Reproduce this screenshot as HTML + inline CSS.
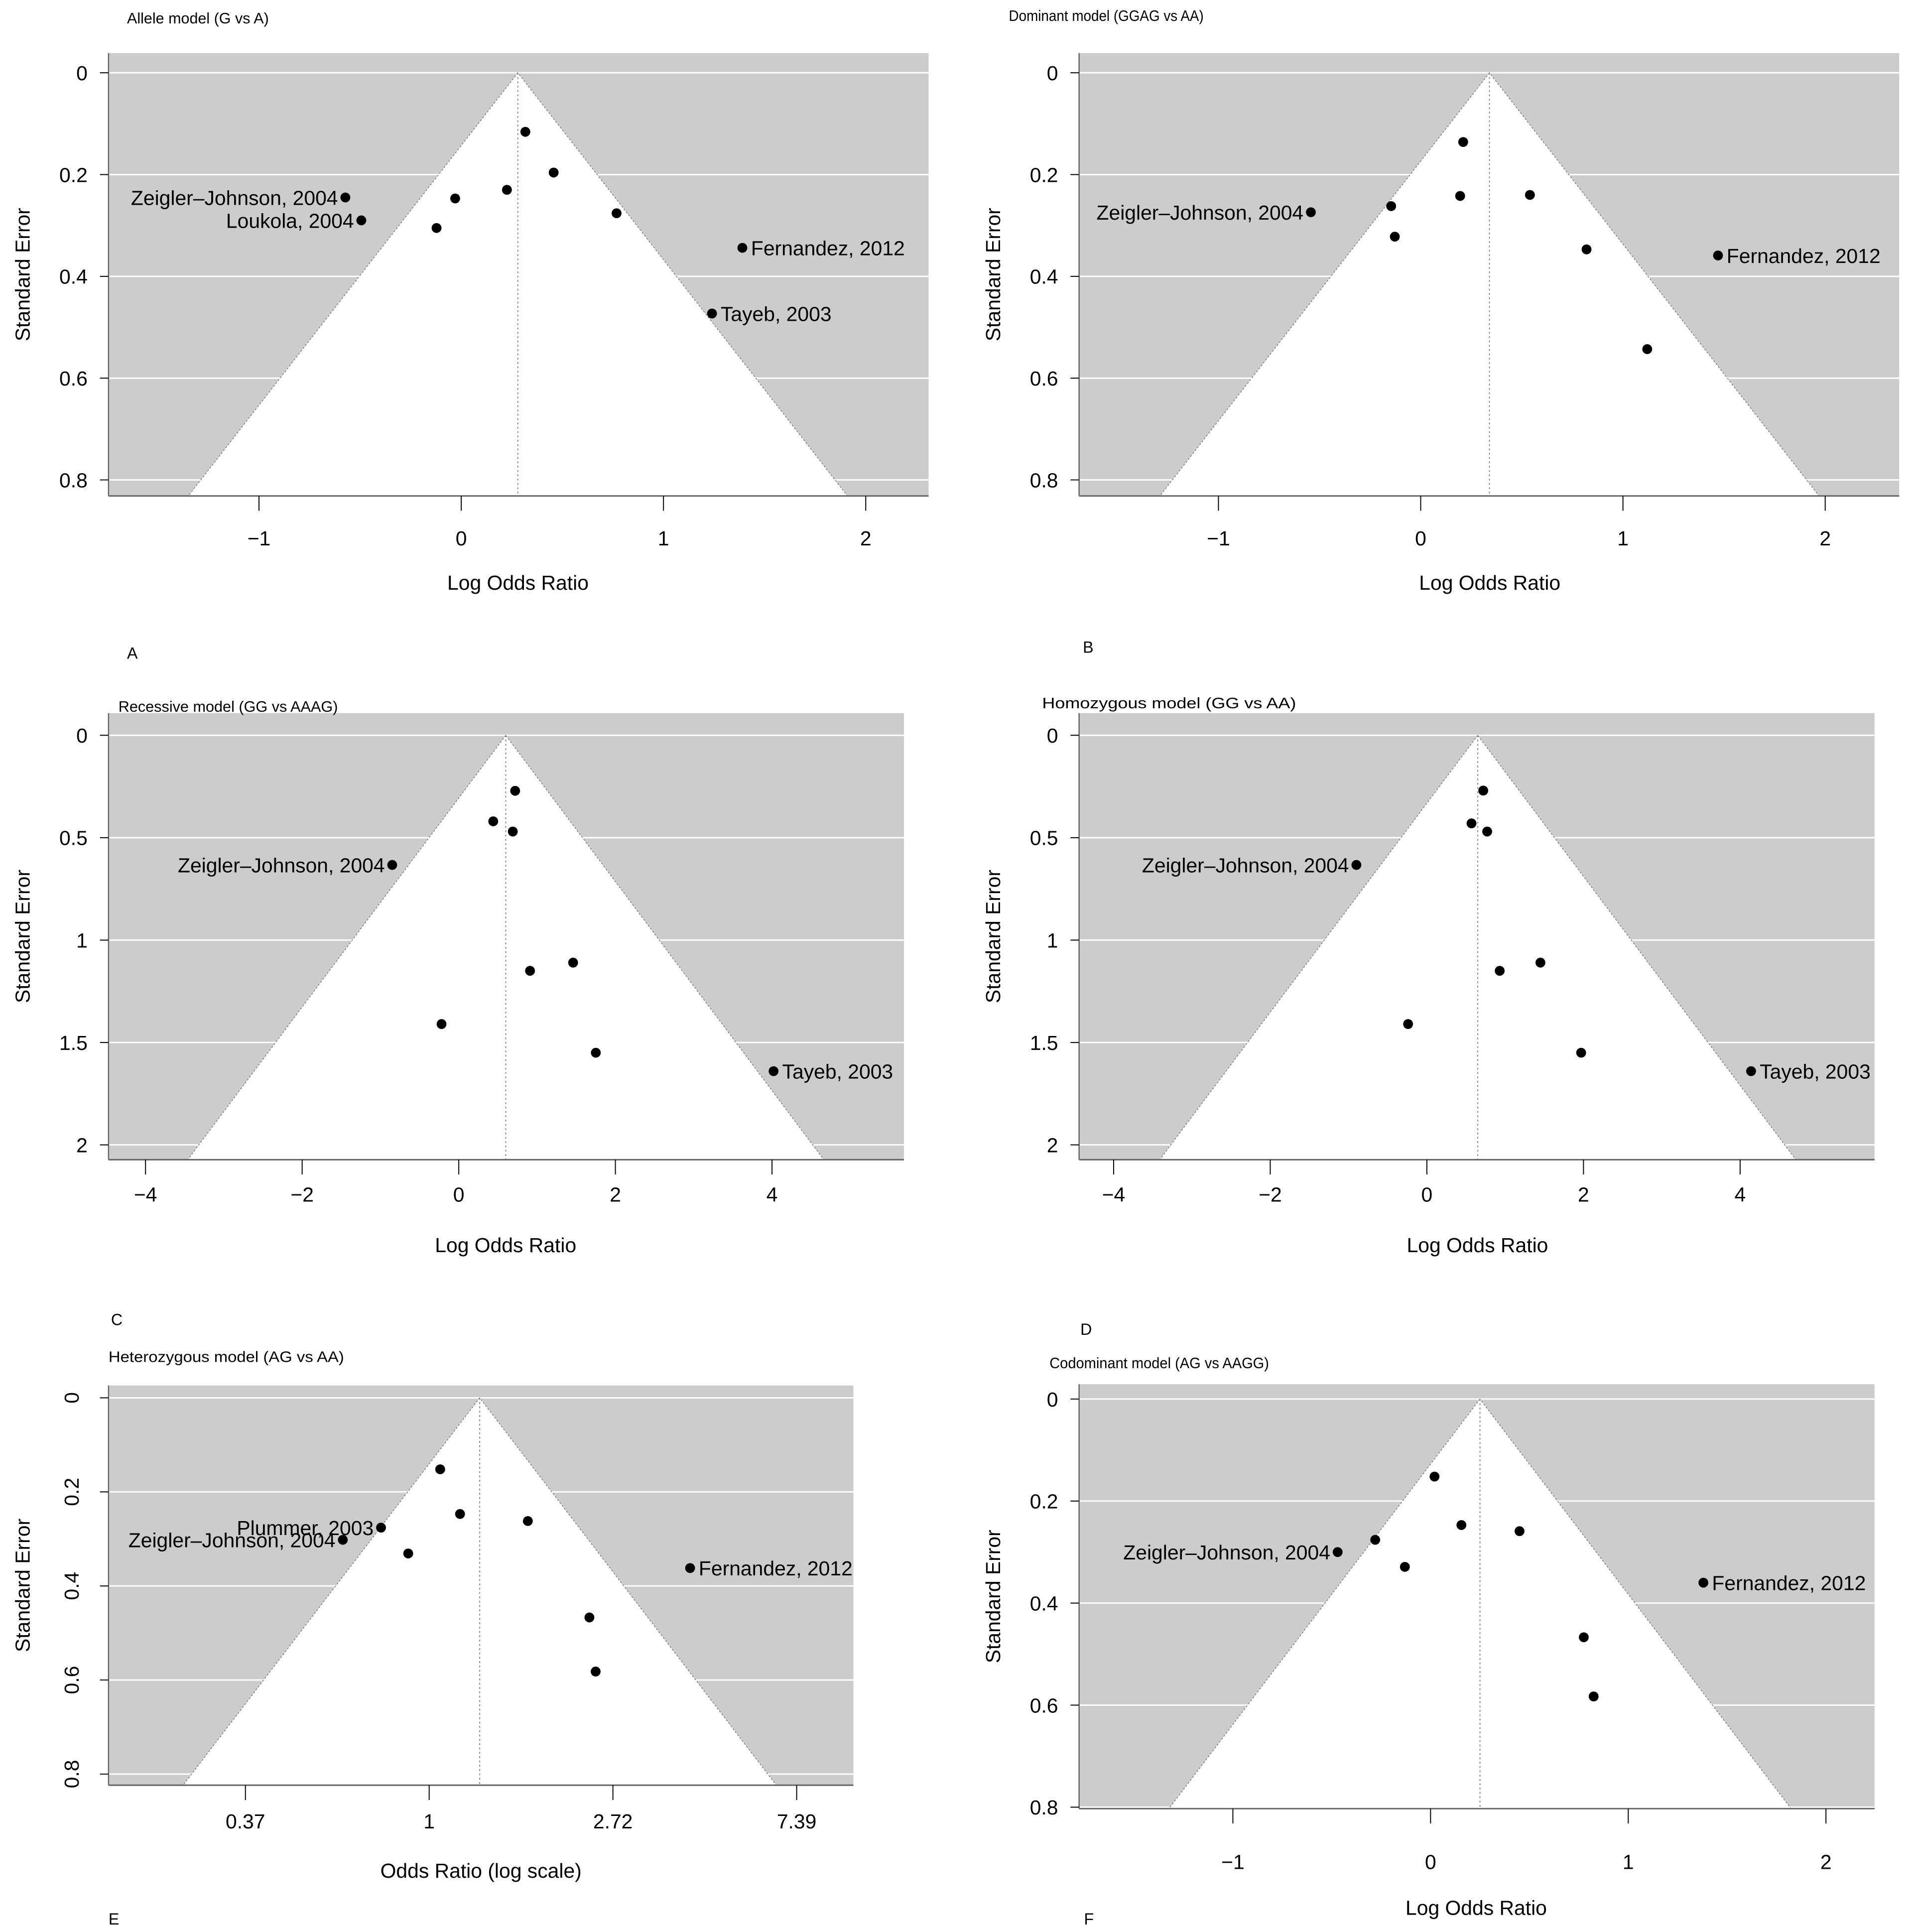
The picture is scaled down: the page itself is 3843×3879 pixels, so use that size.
<!DOCTYPE html>
<html><head><meta charset="utf-8"><style>
html,body{margin:0;padding:0;background:#fff}
svg{display:block}
text{font-family:"Liberation Sans",sans-serif;fill:#000}
</style></head><body>
<svg id="fig" width="3843" height="3879" viewBox="0 0 1552 1566" preserveAspectRatio="none" xmlns="http://www.w3.org/2000/svg"></svg>
<script>
// Panel A
const aX=[0.317,0.457,0.226,-0.03,-0.122,0.768,-0.573,-0.494,1.39,1.24];
const aSE=[0.116,0.196,0.23,0.247,0.305,0.276,0.245,0.29,0.344,0.473];
const aLab=["","","","","","","Zeigler\u2013Johnson, 2004","Loukola, 2004","Fernandez, 2012","Tayeb, 2003"];
// Panel B
const bX=[0.21,-0.146,0.195,-0.128,0.54,0.82,1.12,-0.543,1.47];
const bSE=[0.136,0.262,0.242,0.322,0.24,0.347,0.543,0.274,0.359];
const bLab=["","","","","","","","Zeigler\u2013Johnson, 2004","Fernandez, 2012"];
// Panel C
const cX=[0.72,0.44,0.69,-0.85,0.91,1.46,-0.22,1.75,4.02];
const cSE=[0.271,0.42,0.47,0.633,1.15,1.11,1.41,1.55,1.64];
const cLab=["","","","Zeigler\u2013Johnson, 2004","","","","","Tayeb, 2003"];
// Panel D
const dX=[0.72,0.57,0.77,-0.9,0.93,1.45,-0.24,1.97,4.14];
const dSE=[0.27,0.43,0.47,0.633,1.15,1.11,1.41,1.55,1.64];
const dLab=["","","","Zeigler\u2013Johnson, 2004","","","","","Tayeb, 2003"];
// Panel E (log OR)
const eX=[0.06,0.168,0.537,-0.262,-0.47,-0.114,1.42,0.872,0.906];
const eSE=[0.152,0.247,0.262,0.276,0.302,0.331,0.362,0.467,0.582];
const eLab=["","","","Plummer, 2003","Zeigler\u2013Johnson, 2004","","Fernandez, 2012","",""];
// Panel F
const fX=[0.02,-0.28,0.156,-0.13,0.45,-0.47,1.38,0.775,0.825];
const fSE=[0.152,0.276,0.247,0.329,0.259,0.3,0.36,0.467,0.583];
const fLab=["","","","","","Zeigler\u2013Johnson, 2004","Fernandez, 2012","",""];
// Ticks
const seTicks1=[0,0.2,0.4,0.6,0.8];
const seTicks2=[0,0.5,1,1.5,2];
const seTickLabels2=["0","0.5","1","1.5","2"];
const xTicks1=[-1,0,1,2];
const xTicks2=[-4,-2,0,2,4];
const xTicksE=[-1,0,1,2];
const xTickLabelsE=["0.37","1","2.72","7.39"];
const centers=[0.28,0.34,0.6,0.65,0.275,0.25];

const FS=16.5, TFS=12.5, LFS=13;
const NS="http://www.w3.org/2000/svg";
const svg=document.getElementById('fig');
function mk(tag,at,parent){const e=document.createElementNS(NS,tag);for(const k in at)e.setAttribute(k,at[k]);(parent||svg).appendChild(e);return e;}
function fmt(v){return v<0?"\u2212"+(-v):String(v);}

function panel(o){
  const g=mk('g',{});
  
  
  const sx=v=>o.px0+(v-o.x0)*o.kx;
  const sy=v=>o.py0+v*o.ky;
  const L=o.L,R=o.R,T=o.T,B=o.B;
  const bg=mk('rect',{x:L,y:T,width:R-L,height:B-T,fill:'#cccccc'},g);
  
  
  o.yt.forEach(t=>{const ln=mk('line',{x1:L,x2:R,y1:sy(t),y2:sy(t),stroke:'#fff','stroke-width':1.2},g);
    
    });
  const seB=(B-o.py0)/o.ky;
  const c=o.center;
  const tri=mk('polygon',{points:`${sx(c)},${sy(0)} ${sx(c-1.96*seB)},${B} ${sx(c+1.96*seB)},${B}`,fill:'#fff',stroke:'#777','stroke-width':0.6,'stroke-dasharray':'1.5,1.5'},g);
  
  
  const cl=mk('line',{x1:sx(c),x2:sx(c),y1:sy(0),y2:B,stroke:'#888','stroke-width':0.8,'stroke-dasharray':'1.5,2'},g);
  
  
  mk('line',{x1:L,x2:L,y1:T,y2:B,stroke:'#666','stroke-width':1},g);
  const xa=mk('line',{x1:L,x2:R,y1:B,y2:B,stroke:'#666','stroke-width':1.2},g);
  
  
  o.yt.forEach((t,i)=>{
    mk('line',{x1:L-7,x2:L,y1:sy(t),y2:sy(t),stroke:'#000','stroke-width':0.8},g);
    let tx;
    if(o.rotY){tx=mk('text',{x:o.ylx,y:sy(t),'font-size':FS,'text-anchor':'middle',transform:`rotate(-90 ${o.ylx} ${sy(t)})`,dy:'0.35em'},g);}
    else tx=mk('text',{x:L-17,y:sy(t)+6,'font-size':FS,'text-anchor':'end'},g);
    tx.textContent=o.ytl?o.ytl[i]:String(t);
    
    
  });
  o.xt.forEach((t,i)=>{
    mk('line',{x1:sx(t),x2:sx(t),y1:B,y2:B+12,stroke:'#000','stroke-width':0.8},g);
    const tx=mk('text',{x:sx(t),y:o.xtly,'font-size':FS,'text-anchor':'middle'},g);
    tx.textContent=o.xtl?o.xtl[i]:fmt(t);
    
    
  });
  o.xs.forEach((v,i)=>{
    const px=sx(v),py=sy(o.ses[i]);
    const p=mk('circle',{cx:px,cy:py,r:4,fill:'#000'},g);
    
    
    if(o.labs[i]){
      const left=v<c;
      const t=mk('text',{x:left?px-6:px+7,y:py+6,'font-size':FS,'text-anchor':left?'end':'start'},g);
      t.textContent=o.labs[i];
      
      
    }
  });
  const xl=mk('text',{x:o.xlx,y:o.xly,'font-size':FS,'text-anchor':'middle'},g);
  xl.textContent=o.xlab;
  
  
  const ycx=o.yax, ycy=(T+B)/2;
  const yl=mk('text',{x:ycx,y:ycy,'font-size':FS,'text-anchor':'middle',transform:`rotate(-90 ${ycx} ${ycy})`},g);
  yl.textContent='Standard Error';
  
  
  const ti=mk('text',{x:o.tx,y:o.ty,'font-size':TFS,textLength:o.tw,lengthAdjust:'spacingAndGlyphs'},g);
  ti.textContent=o.title;
  
  
  const le=mk('text',{x:o.lx,y:o.ly,'font-size':LFS},g);
  le.textContent=o.letter;
  
  
}

panel({name:'panel-a',L:88,R:753,T:43,B:402,px0:374,x0:0,kx:164,py0:59,ky:412.5,center:centers[0],yt:seTicks1,xt:xTicks1,xtly:442,
  xs:aX,ses:aSE,labs:aLab,xlab:'Log Odds Ratio',xlx:420,xly:478,yax:24,title:'Allele model (G vs A)',tw:115,tx:103,ty:19,letter:'A',lx:103,ly:534});
panel({name:'panel-b',L:875,R:1540,T:43,B:402,px0:1152,x0:0,kx:164,py0:59,ky:412.5,center:centers[1],yt:seTicks1,xt:xTicks1,xtly:442,
  xs:bX,ses:bSE,labs:bLab,xlab:'Log Odds Ratio',xlx:1208,xly:478,yax:811,title:'Dominant model (GGAG vs AA)',tw:158,tx:818,ty:17,letter:'B',lx:878,ly:529});
panel({name:'panel-c',L:88,R:733,T:578,B:940,px0:372,x0:0,kx:63.5,py0:596,ky:166,center:centers[2],yt:seTicks2,ytl:seTickLabels2,xt:xTicks2,xtly:974,
  xs:cX,ses:cSE,labs:cLab,xlab:'Log Odds Ratio',xlx:410,xly:1015,yax:24,title:'Recessive model (GG vs AAAG)',tw:178,tx:96,ty:577,letter:'C',lx:90,ly:1074});
panel({name:'panel-d',L:875,R:1520,T:578,B:940,px0:1157,x0:0,kx:63.5,py0:596,ky:166,center:centers[3],yt:seTicks2,ytl:seTickLabels2,xt:xTicks2,xtly:974,
  xs:dX,ses:dSE,labs:dLab,xlab:'Log Odds Ratio',xlx:1198,xly:1015,yax:811,title:'Homozygous model (GG vs AA)',tw:206,tx:845,ty:574,letter:'D',lx:876,ly:1082});
panel({name:'panel-e',L:88,R:692,T:1123,B:1447,px0:348,x0:0,kx:149,py0:1133,ky:381.25,center:centers[4],yt:seTicks1,rotY:true,ylx:58,xt:xTicksE,xtl:xTickLabelsE,xtly:1482,
  xs:eX,ses:eSE,labs:eLab,xlab:'Odds Ratio (log scale)',xlx:390,xly:1522,yax:24,title:'Heterozygous model (AG vs AA)',tw:191,tx:88,ty:1104,letter:'E',lx:88,ly:1560});
panel({name:'panel-f',L:875,R:1520,T:1122,B:1466,px0:1160,x0:0,kx:160.3,py0:1134,ky:413.5,center:centers[5],yt:seTicks1,xt:xTicks1,xtly:1515,
  xs:fX,ses:fSE,labs:fLab,xlab:'Log Odds Ratio',xlx:1197,xly:1552,yax:811,title:'Codominant model (AG vs AAGG)',tw:178,tx:851,ty:1109,letter:'F',lx:879,ly:1560});
</script>
</body></html>
